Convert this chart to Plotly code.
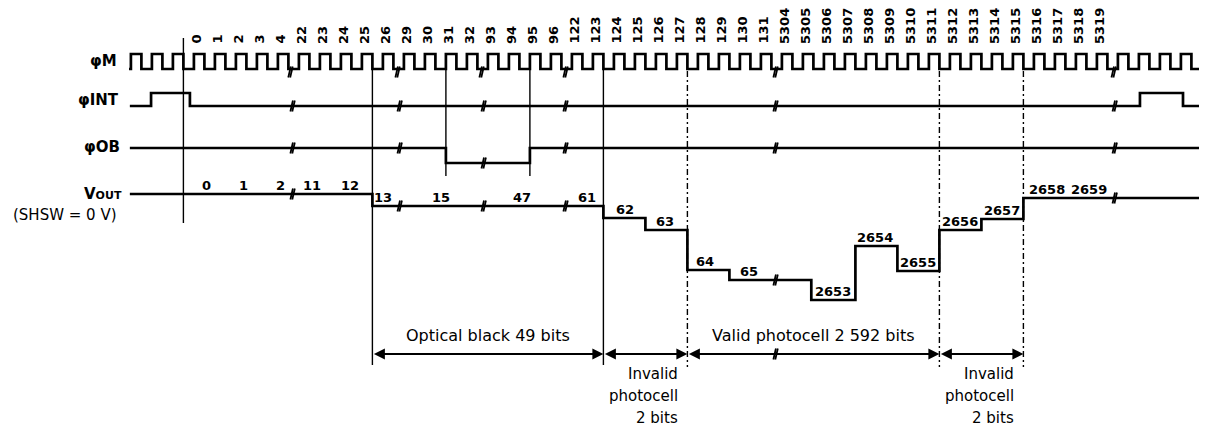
import plotly.graph_objects as go

# ---------------- data ----------------
# clock (phi M) cycle labels written above the clock, one per clock period
clock_labels = ["0", "1", "2", "3", "4", "22", "23", "24", "25", "26", "29", "30",
                "31", "32", "93", "94", "95", "96", "122", "123", "124", "125",
                "126", "127", "128", "129", "130", "131", "5304", "5305", "5306",
                "5307", "5308", "5309", "5310", "5311", "5312", "5313", "5314",
                "5315", "5316", "5317", "5318", "5319"]
clock_cycles = list(range(-3, 48))          # periods drawn (label i sits at period i)
clock_rise, clock_fall = -0.1, 0.4          # edge phases inside one period
clock_span = [-3.19, 47.9]                  # start / end of the clock trace (periods)
clock_breaks = [4.5, 9.6, 13.6, 17.6, 27.6, 43.7]

# phi INT : edge times (periods) and level after each edge (1 = high)
int_t = [-3.15, -2.14, -0.29, 44.95, 47.0, 47.85]
int_lv = [0, 1, 0, 1, 0, 0]

# phi OB
ob_t = [-3.15, 11.9, 15.9, 48.0]
ob_lv = [1, 0, 1, 1]

# V OUT : step times and output level (relative units, 0 = reset level, negative = lower)
vout_t = [-3.15, 8.4, 19.4, 21.4, 23.4, 25.4, 29.3, 31.4, 33.4, 35.4, 37.4, 39.4, 48.0]
vout_lv = [0, -12, -24, -36, -76, -86, -106, -52, -77, -36, -25, -4, -4]
line_breaks = [4.6, 9.7, 13.7, 17.6, 27.6, 43.75]

# pixel (bit) numbers written on V OUT and their position (periods)
vout_labels = ["0", "1", "2", "11", "12", "13", "15", "47", "61", "62", "63", "64", "65",
               "2653", "2654", "2655", "2656", "2657", "2658", "2659"]
vout_label_t = [0.48, 2.24, 4.0, 5.52, 7.33, 8.9, 11.67, 15.52, 18.62, 20.43, 22.33,
                24.24, 26.33, 30.33, 32.33, 34.38, 36.38, 38.38, 40.52, 42.52]

# timing reference lines (periods)
ref_start = -0.6
ref_long = [8.4, 19.4]
ref_ob = [11.9, 15.9]
ref_dashed = [23.4, 35.4, 39.4]

# output sections (edges in periods)
section_edges = [8.4, 19.4, 23.4, 35.4, 39.4]
section_names = ["Optical black 49 bits", "Invalid|photocell|2 bits",
                 "Valid photocell 2 592 bits", "Invalid|photocell|2 bits"]
valid_break = 27.6

# ---------------- layout constants ----------------
W, H = 1207, 426
X0_PX, PERIOD_PX = 188.0, 21.0
X_RANGE = [-X0_PX / PERIOD_PX, (W - X0_PX) / PERIOD_PX]
ROW_M = (46, 61)      # (high, low) y pixel rows
ROW_INT = (85, 98)
ROW_OB = (140, 155)
VOUT_BASE = 186
ARROW_Y = 346
FONT = "DejaVu Sans, Liberation Sans, sans-serif"
SIG_W = 2.7

fig = go.Figure()


def add_line(xs, ys, width=SIG_W, dash=None, shape="linear"):
    fig.add_trace(go.Scatter(x=xs, y=ys, mode="lines",
                             line=dict(color="black", width=width, dash=dash, shape=shape),
                             hoverinfo="skip", showlegend=False))


def level_y(row, lv):
    return row[0] if lv else row[1]


def break_marks(ts, ys, half=5.5, gap=0.09, slant=0.06):
    xs, yy = [], []
    for t, y in zip(ts, ys):
        for off in (-gap / 2, gap / 2):
            xs += [t + off - slant, t + off + slant, None]
            yy += [y + half, y - half, None]
    add_line(xs, yy, width=1.8)


def vout_at(t):
    idx = 0
    for i, tt in enumerate(vout_t):
        if tt <= t:
            idx = i
    return VOUT_BASE - vout_lv[idx]


def ob_at(t):
    idx = 0
    for i, tt in enumerate(ob_t):
        if tt <= t:
            idx = i
    return level_y(ROW_OB, ob_lv[idx])


# phi M clock
cx, cy = [clock_span[0]], [ROW_M[1]]
for k in clock_cycles:
    r, f = k + clock_rise, k + clock_fall
    cx += [r, r, f, f]
    cy += [ROW_M[1], ROW_M[0], ROW_M[0], ROW_M[1]]
cx.append(clock_span[1])
cy.append(ROW_M[1])
add_line(cx, cy)
break_marks(clock_breaks, [ROW_M[1] + 3] * len(clock_breaks))

# phi INT, phi OB
add_line(int_t, [level_y(ROW_INT, v) for v in int_lv], shape="hv")
break_marks(line_breaks, [ROW_INT[1]] * len(line_breaks))
add_line(ob_t, [level_y(ROW_OB, v) for v in ob_lv], shape="hv")
break_marks(line_breaks, [ob_at(t) for t in line_breaks])

# V OUT
add_line(vout_t, [VOUT_BASE - v for v in vout_lv], shape="hv")
break_marks(line_breaks, [vout_at(t) for t in line_breaks])

# reference lines
add_line([ref_start, ref_start], [30, 215], width=1.4)
for t in ref_long:
    add_line([t, t], [ROW_M[1], 357], width=1.4)
for t in ref_ob:
    add_line([t, t], [ROW_M[1], 168], width=1.4)
for t in ref_dashed:
    add_line([t, t], [ROW_M[1] + 2, 359], width=1.4, dash="6px,3px,2px,3px")

# clock labels
for i, lab in enumerate(clock_labels):
    fig.add_annotation(x=i, y=38, text="<b>" + lab + "</b>", textangle=-90, showarrow=False,
                       xanchor="center", yanchor="bottom",
                       font=dict(family=FONT, size=13, color="black"))

# V OUT labels
for lab, t in zip(vout_labels, vout_label_t):
    fig.add_annotation(x=t, y=vout_at(t) - 9, text="<b>" + lab + "</b>", showarrow=False,
                       xanchor="center", yanchor="middle",
                       font=dict(family=FONT, size=13, color="black"))

# signal names
names = [("<b>φM</b>", ROW_M[1] - 8, 111), ("<b>φINT</b>", ROW_INT[1] - 6, 113),
         ("<b>φOB</b>", ROW_OB[0] - 1, 114),
         ("<b>V<span style='font-size:11px'>OUT</span></b>", VOUT_BASE, 116),
         ("(SHSW = 0 V)", 207, 111)]
for txt, y, xp in names:
    fig.add_annotation(x=xp / W, xref="paper", y=y, text=txt, showarrow=False,
                       xanchor="right", yanchor="middle",
                       font=dict(family=FONT, size=15, color="black"))

# sections: arrows and names
for i, name in enumerate(section_names):
    a, b = section_edges[i], section_edges[i + 1]
    fig.add_annotation(x=b, y=ARROW_Y, ax=a, ay=ARROW_Y, xref="x", yref="y",
                       axref="x", ayref="y", text="", showarrow=True, arrowhead=2,
                       arrowside="end+start", arrowsize=1.1, arrowwidth=2,
                       arrowcolor="black", standoff=0, startstandoff=0)
    parts = name.split("|")
    if len(parts) == 1:
        fig.add_annotation(x=(a + b) / 2, y=327, text=name, showarrow=False,
                           xanchor="center", yanchor="middle",
                           font=dict(family=FONT, size=16, color="black"))
    else:
        for j, p in enumerate(parts):
            fig.add_annotation(x=b - 0.33, y=366 + 22 * j, text=p, showarrow=False,
                               xanchor="right", yanchor="middle",
                               font=dict(family=FONT, size=15, color="black"))
break_marks([valid_break], [ARROW_Y])

fig.update_layout(
    width=W, height=H, margin=dict(l=0, r=0, t=0, b=0),
    paper_bgcolor="white", plot_bgcolor="white",
    xaxis=dict(range=X_RANGE, visible=False, fixedrange=True),
    yaxis=dict(range=[H, 0], visible=False, fixedrange=True),
    showlegend=False,
)
fig.write_html("out.html")
